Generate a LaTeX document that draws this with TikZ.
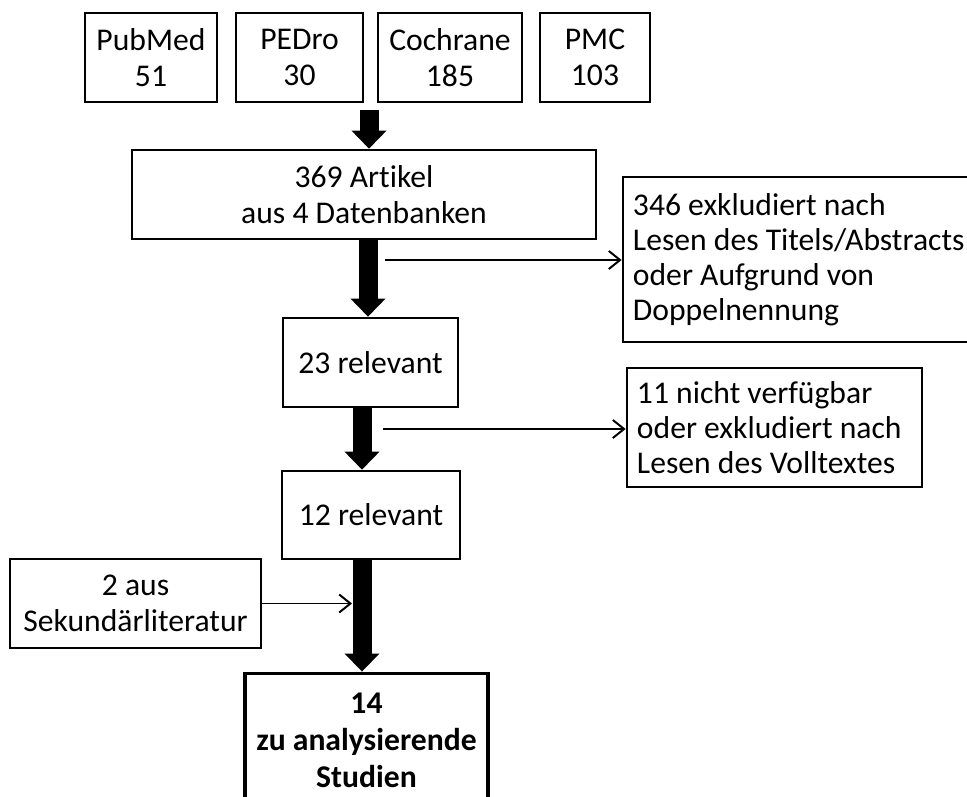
\documentclass[tikz,border=0pt]{standalone}
\usepackage{fontspec}
\setmainfont{Carlito}[Ligatures=NoCommon]
\usetikzlibrary{arrows.meta}
\tikzset{
  box/.style={draw,line width=1.9pt,align=center,inner sep=0pt,minimum height=2.225cm},
  note/.style={draw,line width=1.9pt,align=flush left,inner xsep=0.25cm,inner ysep=0pt,
    font=\fontsize{22.5}{25}\selectfont},
  fat/.style={line width=0.475cm,-{Triangle[width=0.875cm,length=0.45cm,line width=0pt]}},
  thin/.style={line width=1.4pt,-{Straight Barb[length=0.28cm,width=0.45cm]}},
}
\begin{document}
\begin{tikzpicture}[x=0.025cm,y=-0.025cm,font=\fontsize{22.5}{26}\selectfont]
\useasboundingbox (0,0) rectangle (967,796);
%datenbanken
\node[box,minimum width=3.3cm] (pubmed) at (151,57.5) {PubMed\\51};
\node[box,minimum width=3.175cm] (pedro) at (299.5,57.5) {PEDro\\30};
\node[box,minimum width=3.6cm] (cochrane) at (450,57.5) {Cochrane\\185};
\node[box,minimum width=2.75cm] (pmc) at (595,57.5) {PMC\\103};
\coordinate (merge) at (369,110);
%artikel
\node[box,minimum width=11.6cm] (artikel) at (364,194.5) {369 Artikel\\aus 4 Datenbanken};
\draw[fat] (merge) -- (merge |- artikel.north);
%exkludiert 1
\node[note,minimum height=4.125cm,text width=8.55cm] (excl1) at (804,259.5) {346 exkludiert nach\\Lesen des Titels/Abstracts\\oder Aufgrund von\\Doppelnennung};
%23
\node[box,minimum width=4.375cm] (rel23) at (370.5,362.5) {23 relevant};
\draw[fat] (artikel.south -| 368,0) -- (rel23.north -| 368,0);
\coordinate (out1) at (385,260);
\draw[thin] (out1) -- (out1 -| excl1.west);
%exkludiert 2
\node[note,minimum height=2.975cm,text width=6.875cm] (excl2) at (774.5,427.5) {11 nicht verfügbar\\oder exkludiert nach\\Lesen des Volltextes};
%12
\node[box,minimum width=4.45cm,minimum height=2.2cm] (rel12) at (371,515) {12 relevant};
\draw[fat] (rel23.south -| 362,0) -- (rel12.north -| 362,0);
\coordinate (out2) at (383,429);
\draw[thin] (out2) -- (out2 -| excl2.west);
%sekundaer
\node[box,minimum width=6.275cm] (sek) at (135.5,603.5) {2 aus\\Sekundärliteratur};
%ergebnis
\node[box,line width=2.8pt,minimum width=6.075cm,minimum height=3.35cm,font=\fontsize{22.5}{26.5}\selectfont\bfseries] (final) at (366.5,740.5) {14\\zu analysierende\\Studien};
\draw[fat] (rel12.south -| 362,0) -- (final.north -| 362,0);
\coordinate (in3) at (352,604);
\draw[thin] (sek.east) -- (sek.east -| in3);
\end{tikzpicture}
\end{document}
